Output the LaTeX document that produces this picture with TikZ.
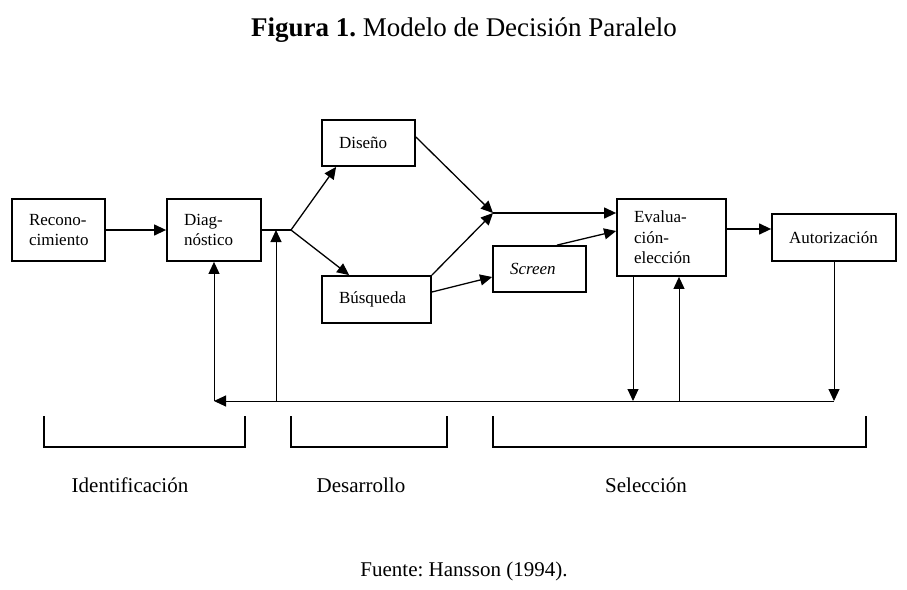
\documentclass[tikz,border=0pt]{standalone}
\usepackage{fontspec}
\setmainfont{Liberation Serif}
\usetikzlibrary{arrows.meta,calc}
\frenchspacing
\begin{document}
\begin{tikzpicture}[x=1pt, y=-1pt,
    box/.style={draw, line width=1.8pt, inner xsep=17pt, align=left, font=\fontsize{17}{20.5}\selectfont},
    arr/.style={line width=1.3pt, -{Triangle[length=12pt,width=11pt]}},
    fbline/.style={line width=1pt},
    bracket/.style={line width=1.5pt},
    phase/.style={anchor=base, font=\fontsize{21}{25}\selectfont}]
    \useasboundingbox (0,0) rectangle (907,589);
    % Title
    \node[anchor=base, font=\fontsize{27}{31}\selectfont] (title) at (464,36) {\textbf{Figura 1.} Modelo de Decisión Paralelo};
    % Boxes
    \node[box, text width=59pt, minimum height=62pt] (rec) at (58.5,230) {Recono-\\cimiento};
    \node[box, text width=60pt, minimum height=62pt] (diag) at (214,230) {Diag-\\nóstico};
    \node[box, text width=59pt, minimum height=46pt] (dis) at (368.5,143) {Diseño};
    \node[box, text width=75pt, minimum height=47pt] (bus) at (376.5,299.5) {Búsqueda};
    \node[box, text width=59pt, minimum height=46pt] (scr) at (539.5,269) {\textit{Screen}};
    \node[box, text width=75pt, minimum height=77pt] (eva) at (671.5,237.5) {Evalua-\\ción-\\elección};
    \node[box, text width=90pt, minimum height=47pt] (aut) at (834,237.5) {Autorización};
    % Junctions
    \coordinate (j) at (291,230);
    \coordinate (jm) at (276,230);
    \coordinate (m) at (493,213);
    \coordinate (fb) at (214,401);
    % Forward flow
    \draw[arr] (rec) -- (diag);
    \draw[line width=1.3pt] (diag.east) -- (j);
    \draw[arr] (j) -- ([xshift=15pt]dis.south west);
    \draw[arr] (j) -- ([xshift=28pt]bus.north west);
    \draw[arr] ([yshift=6pt]dis.east) -- (m);
    \draw[arr] (bus.north east) -- (m);
    \draw[arr] (m) -- (m -| eva.west);
    \draw[arr] ([yshift=7.5pt]bus.east) -- ([yshift=-8pt]scr.west);
    \draw[arr] ([xshift=17.5pt]scr.north) -- ([yshift=6.5pt]eva.west);
    \draw[arr] ([yshift=8.5pt]eva.east) -- ([yshift=8.5pt]eva.east -| aut.west);
    % Feedback loop
    \draw[arr, fbline] (aut.south) -- (aut.south |- fb);
    \draw[arr, fbline] (aut.south |- fb) -- (fb);
    \draw[arr, fbline] (fb) -- (diag.south);
    \draw[arr, fbline] (jm |- fb) -- (jm);
    \draw[arr, fbline] ([xshift=-38.5pt]eva.south) -- ([xshift=-38.5pt]eva.south |- fb);
    \draw[arr, fbline] ([xshift=7.5pt]eva.south |- fb) -- ([xshift=7.5pt]eva.south);
    % Phases
    \draw[bracket] (44,416) |- (245,447) -- (245,416);
    \draw[bracket] (291,416) |- (447,447) -- (447,416);
    \draw[bracket] (493,416) |- (866,447) -- (866,416);
    \node[phase] (ident) at (130,492) {Identificación};
    \node[phase] (desa) at (361,492) {Desarrollo};
    \node[phase] (sele) at (646,492) {Selección};
    % Source
    \node[phase] (src) at (464,576) {Fuente: Hansson (1994).};
\end{tikzpicture}
\end{document}
